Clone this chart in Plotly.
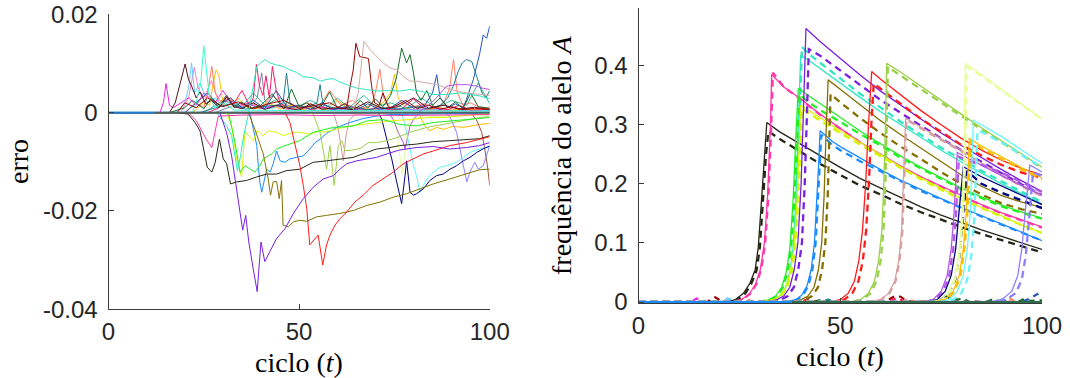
import plotly.graph_objects as go

# ---------------- tick labels ----------------
cycle_ticks = [0, 50, 100]
cycle_tick_text = ["0", "50", "100"]
err_ticks = [0.02, 0, -0.02, -0.04]
err_tick_text = ["0.02", "0", "-0.02", "-0.04"]
freq_ticks = [0, 0.1, 0.2, 0.3, 0.4]
freq_tick_text = ["0", "0.1", "0.2", "0.3", "0.4"]

# ---------------- LEFT PANEL (erro) : large negative curves ----------------
e_purple_t = [0, 29.2, 31, 32.3, 33.2, 34.3, 35.2, 36, 36.8, 37.8, 39, 40, 41, 42.3, 44.1, 46.3, 48.5, 51.1, 53.7, 56.3, 59, 60.7, 62.5, 65.1, 67.7, 70.3, 73.8, 76.4, 80.8, 85.2, 89.5, 93.9, 97.4, 100]
e_purple_v = [0, 0, -0.0041, -0.0088, -0.0135, -0.0195, -0.0239, -0.0209, -0.0263, -0.031, -0.0364, -0.0263, -0.0303, -0.0283, -0.0256, -0.0236, -0.0205, -0.0175, -0.0152, -0.0135, -0.0128, -0.0115, -0.0104, -0.0098, -0.0094, -0.0091, -0.0082, -0.0076, -0.0071, -0.0069, -0.0074, -0.0071, -0.0067, -0.0061]

e_red_t = [0, 46.3, 47.6, 48.9, 50.2, 51.1, 52, 52.8, 54.2, 55, 56.2, 57.2, 58.1, 59.4, 60.7, 62.5, 64.6, 66.8, 69.4, 72.1, 74.7, 77.3, 80, 82.6, 85.2, 89.5, 93.9, 97.4, 100]
e_red_v = [0, 0, -0.002, -0.0061, -0.0108, -0.0148, -0.0195, -0.0269, -0.0256, -0.0249, -0.031, -0.0269, -0.0249, -0.0229, -0.0216, -0.0202, -0.0182, -0.0168, -0.0148, -0.0135, -0.0121, -0.0104, -0.0094, -0.0084, -0.0078, -0.0067, -0.0061, -0.0054, -0.0049]

e_olive_t = [0, 36.7, 38.4, 40.6, 41.9, 42.5, 43.2, 44.1, 44.8, 45.4, 45.8, 47.2, 48.5, 50.2, 52, 54.6, 57.2, 60.7, 64.2, 67.7, 71.2, 74.7, 78.2, 81.7, 85.2, 89.5, 93.9, 97.4, 100]
e_olive_v = [0, 0, -0.0034, -0.0084, -0.0135, -0.0168, -0.0141, -0.014, -0.0175, -0.0138, -0.0229, -0.0232, -0.0222, -0.0219, -0.0221, -0.0212, -0.0209, -0.0205, -0.0199, -0.0189, -0.0182, -0.0172, -0.0165, -0.0155, -0.0145, -0.0135, -0.0125, -0.0116, -0.0115]

e_black_t = [0, 17.9, 20.9, 22.7, 24, 24.9, 25.9, 27.1, 28, 29.1, 30.1, 31, 32, 33.6, 36.2, 38.8, 41.5, 44.1, 46.7, 50.2, 53.7, 57.2, 60.7, 64.2, 67.7, 70.3, 73.8, 76.4, 80.8, 85.2, 89.5, 93.9, 97.4, 100]
e_black_v = [0, 0, -0.0003, -0.002, -0.0037, -0.0074, -0.0111, -0.0121, -0.0101, -0.0054, -0.0094, -0.0104, -0.0145, -0.0141, -0.0138, -0.0131, -0.0125, -0.0125, -0.0118, -0.0115, -0.0101, -0.0098, -0.0094, -0.0091, -0.0081, -0.0074, -0.0071, -0.0067, -0.0064, -0.0059, -0.0057, -0.0054, -0.0053, -0.0047]

e_pink_t = [0, 20.9, 23.1, 24.4, 25.7, 27.1, 28.2, 28.8, 35, 45, 55, 65, 75, 85, 100]
e_pink_v = [0, 0, -0.0017, -0.0037, -0.0055, -0.0071, -0.0034, -0.0007, -0.0005, -0.0004, -0.0006, -0.0005, -0.0006, -0.0005, -0.0004]

e_turq_t = [0, 28.4, 29.7, 31, 32.3, 33.2, 33.8, 34.6, 35.5, 36.5, 37.5, 38.9, 41, 42.4, 44.1, 45.8, 47.6, 49.3, 51.1, 53.7, 55.5, 57.5, 59, 60.5, 62.5, 65.1, 67.5, 70.3, 73, 76.5, 79.1, 81.7, 85.2, 88.7, 92.2, 95, 97.4, 100]
e_turq_v = [0, 0, -0.0014, -0.0027, -0.0047, -0.0088, -0.0118, -0.009, -0.0045, -0.001, 0.003, 0.0094, 0.0108, 0.0101, 0.0097, 0.0094, 0.0087, 0.0082, 0.0073, 0.0071, 0.0064, 0.0068, 0.0069, 0.0063, 0.0057, 0.005, 0.0047, 0.0044, 0.0045, 0.0044, 0.0047, 0.0044, 0.0037, 0.0037, 0.004, 0.0036, 0.0034, 0.0028]

e_lime_t = [0, 31.5, 33.2, 34.1, 34.5, 35.8, 37.1, 38.4, 39.7, 40.6, 42.8, 44.1, 46, 48, 50.2, 53.7, 56, 59, 62, 64.2, 67.7, 72.1, 76.4, 80.8, 85.2, 90, 93.9, 97, 100]
e_lime_v = [0, 0, -0.0061, -0.0108, -0.0121, -0.0108, -0.0115, -0.0121, -0.0108, -0.0094, -0.0084, -0.0074, -0.0068, -0.0063, -0.0057, -0.004, -0.0036, -0.003, -0.0029, -0.0027, -0.0017, -0.0014, -0.0024, -0.0027, -0.002, -0.0017, -0.0014, -0.0012, -0.001]

e_yellow_t = [0, 31, 32.3, 33.6, 34.9, 35.8, 36.7, 38, 38.9, 39.7, 40.6, 41.9, 44.1, 45.9, 48.5, 50.2, 52.8, 55.5, 56.4, 59.9, 63.4, 66.8, 70.3, 73.8, 79.1, 83.5, 87.8, 92.2, 97.4, 100]
e_yellow_v = [0, 0, -0.0027, -0.0094, -0.0131, -0.0037, -0.0047, -0.0057, -0.0037, -0.004, -0.0047, -0.0037, -0.004, -0.0047, -0.004, -0.004, -0.0044, -0.0037, -0.004, -0.0034, -0.0027, -0.0024, -0.002, -0.0017, -0.0014, -0.001, -0.001, -0.0007, -0.0003, -0.0003]

e_blue_t = [0, 37.1, 38, 38.9, 39.3, 39.7, 40.2, 41, 41.5, 42.4, 43.2, 44.1, 45, 46.3, 47.6, 49.3, 51.1, 52.8, 54.2, 55.5, 57.2, 59.9, 63.4, 66.8, 70.3, 73.8, 80, 90, 100]
e_blue_v = [0, 0, -0.0034, -0.0067, -0.0108, -0.0141, -0.0162, -0.0128, -0.0115, -0.0121, -0.0104, -0.0078, -0.0098, -0.0101, -0.0094, -0.0091, -0.0088, -0.0074, -0.0061, -0.0054, -0.0042, -0.003, -0.002, -0.0012, -0.0007, -0.0004, -0.0003, -0.0002, -0.0002]

e_ygreen_t = [0, 52.5, 53.7, 55.5, 57.2, 58.1, 59.2, 60.3, 61.2, 62, 63.4, 66, 68.2, 70.3, 73, 75.6, 79.1, 83.5, 87.8, 92.2, 97.4, 100]
e_ygreen_v = [0, 0, -0.0003, -0.004, -0.0115, -0.0067, -0.0148, -0.0067, -0.0057, -0.0077, -0.0077, -0.0073, -0.0061, -0.0061, -0.0057, -0.0051, -0.004, -0.003, -0.0024, -0.0017, -0.001, -0.0008]

e_rosy_t = [0, 59, 60.2, 61, 61.6, 62.3, 63.2, 65, 100]
e_rosy_v = [0, 0, -0.003, -0.0074, -0.0098, -0.0047, -0.0014, -0.0003, -0.0002]

e_navy_t = [0, 70.8, 71.7, 73, 74.3, 75.6, 76.9, 77.8, 78.2, 79.1, 80, 80.8, 82.6, 84.3, 86.1, 87.8, 89.6, 91.3, 93.1, 94.8, 96.6, 98.2, 100]
e_navy_v = [0, 0, -0.0014, -0.0054, -0.0094, -0.0141, -0.0185, -0.0128, -0.0098, -0.0162, -0.0168, -0.0165, -0.0155, -0.0138, -0.0128, -0.0125, -0.0115, -0.0108, -0.0098, -0.0091, -0.0081, -0.0074, -0.0068]

e_cyan_t = [0, 76.9, 78.2, 79.1, 80, 80.8, 81.7, 82.6, 83.5, 85.2, 87, 88.7, 91.3, 93.1, 94.8, 97.4, 100]
e_cyan_v = [0, 0, -0.004, -0.0074, -0.0108, -0.0128, -0.0162, -0.0148, -0.0135, -0.0121, -0.0111, -0.0108, -0.0101, -0.0091, -0.0081, -0.0074, -0.0068]

e_orchid_t = [0, 73.5, 74.7, 76, 77.3, 77.8, 78.2, 79.1, 80, 82, 84, 86, 88.7, 91.3, 94, 96.6, 98, 100]
e_orchid_v = [0, 0, -0.0014, -0.004, -0.006, -0.0074, -0.006, -0.0027, -0.0014, 0.0005, 0.0015, 0.003, 0.0054, 0.0057, 0.0057, 0.0054, 0.005, 0.0047]

e_slate_t = [0, 88, 89.5, 91.3, 93.1, 94, 94.8, 96.1, 97, 98.3, 100]
e_slate_v = [0, 0, -0.0007, -0.004, -0.0108, -0.0141, -0.0121, -0.0101, -0.0115, -0.0108, -0.0067]

e_brown_t = [0, 95, 96.5, 97.9, 98.7, 99.4, 100]
e_brown_v = [0, 0, -0.0014, -0.004, -0.0074, -0.0108, -0.0148]

e_orange_t = [0, 80.5, 81.7, 83, 84.3, 86.1, 87.8, 90.4, 93.1, 97.4, 100]
e_orange_v = [0, 0, -0.0007, -0.0027, -0.0037, -0.003, -0.0034, -0.0028, -0.003, -0.0024, -0.0022]

e_pale_t = [0, 74.5, 75.5, 76.4, 77, 77.6, 78.5, 79.5, 85, 100]
e_pale_v = [0, 0, -0.003, -0.009, -0.0125, -0.009, -0.003, -0.0012, -0.0008, -0.0005]

# ---------------- LEFT PANEL : positive spiky curves ----------------
e_darkred_t = [0, 18, 20, 23, 26, 30, 34, 38, 42, 46, 50, 54, 58, 61, 62.5, 63.4, 64.2, 64.9, 65.9, 67.7, 68.2, 69, 69.8, 71, 72, 73.5, 75, 78, 81, 84, 87, 90, 93, 96, 100]
e_darkred_v = [0, 0, 0.002, 0.001, 0.003, 0.0012, 0.0022, 0.0008, 0.0018, 0.0025, 0.0009, 0.0015, 0.002, 0.0008, 0.001, 0.0054, 0.0087, 0.0141, 0.0114, 0.0111, 0.011, 0.0055, 0.002, 0.0015, 0.004, 0.001, 0.0012, 0.0025, 0.0008, 0.0015, 0.0007, 0.0012, 0.0006, 0.0009, 0.0007]

e_rosypos_t = [0, 64, 65.5, 66.3, 67, 68.6, 70.3, 72.1, 73.8, 75.6, 77.3, 79.1, 80.8, 83.5, 86.1, 88.7, 91.3, 94, 97.4, 100]
e_rosypos_v = [0, 0, 0.004, 0.01, 0.0145, 0.0128, 0.0114, 0.0101, 0.0091, 0.0087, 0.0074, 0.0064, 0.0064, 0.006, 0.0057, 0.005, 0.0044, 0.004, 0.0037, 0.0035]

e_magenta_t = [0, 13.5, 14.4, 15.1, 16, 17, 19, 21, 23, 25, 28, 30, 33, 36, 40, 45, 50, 55, 60, 65, 70, 75, 80, 85, 90, 95, 100]
e_magenta_v = [0, 0, 0.002, 0.0059, 0.0015, 0.001, 0.002, 0.003, 0.0015, 0.004, 0.002, 0.0045, 0.001, 0.002, 0.0008, 0.0015, 0.0006, 0.0012, 0.0005, 0.001, 0.0004, 0.0008, 0.0005, 0.0007, 0.0004, 0.0006, 0.0004]

e_maroon_t = [0, 16, 17.5, 18.7, 20.1, 21, 21.8, 23, 24, 25.5, 27, 29, 31, 33, 35, 38, 41, 44, 47, 50, 53, 56, 60, 64, 68, 72, 76, 80, 84, 88, 92, 96, 100]
e_maroon_v = [0, 0, 0.002, 0.0054, 0.0099, 0.0067, 0.0054, 0.003, 0.0042, 0.0018, 0.0025, 0.001, 0.0032, 0.0012, 0.0008, 0.002, 0.0006, 0.0015, 0.0009, 0.0005, 0.0018, 0.0007, 0.001, 0.0006, 0.0022, 0.0008, 0.0012, 0.003, 0.0009, 0.0015, 0.0007, 0.0011, 0.0006]

e_sky_t = [0, 18, 20, 21, 21.8, 22.6, 24, 26, 28, 30, 32, 35, 38, 42, 46, 50, 55, 60, 65, 70, 75, 80, 85, 90, 95, 100]
e_sky_v = [0, 0, 0.002, 0.005, 0.0101, 0.004, 0.006, 0.002, 0.003, 0.0012, 0.0025, 0.001, 0.0018, 0.0008, 0.0014, 0.0006, 0.001, 0.0005, 0.0008, 0.0004, 0.0009, 0.0005, 0.0007, 0.0004, 0.0006, 0.0004]

e_salmon_t = [0, 20, 23, 25, 26, 27.1, 28, 30, 32, 34, 37, 40, 43, 46, 49, 52, 55, 58, 61, 64, 67, 69, 70, 71.2, 72.2, 74, 77, 80, 83, 86, 88, 89.5, 90.5, 91.5, 93, 95, 97, 100]
e_salmon_v = [0, 0, 0.002, 0.001, 0.004, 0.0094, 0.004, 0.0015, 0.003, 0.001, 0.0022, 0.0009, 0.0035, 0.0012, 0.0008, 0.002, 0.001, 0.0045, 0.0015, 0.0025, 0.001, 0.0015, 0.004, 0.0088, 0.003, 0.001, 0.002, 0.0012, 0.0018, 0.0009, 0.002, 0.005, 0.0108, 0.004, 0.0015, 0.002, 0.0012, 0.0009]

e_gold_t = [0, 22, 25, 26.5, 27.5, 28.2, 29, 30, 32, 34, 36, 39, 42, 45, 48, 51, 54, 57, 60, 63, 66, 69, 72, 74, 75, 76, 78, 81, 84, 87, 90, 93, 96, 100]
e_gold_v = [0, 0, 0.002, 0.0015, 0.006, 0.0087, 0.0075, 0.002, 0.001, 0.003, 0.0012, 0.0008, 0.002, 0.0007, 0.0015, 0.0006, 0.0012, 0.0005, 0.0025, 0.0008, 0.001, 0.0006, 0.002, 0.004, 0.0078, 0.003, 0.0009, 0.0012, 0.0007, 0.001, 0.0005, 0.0008, 0.0006, 0.0007]

e_crimson_t = [0, 26, 29, 31, 33, 35, 37, 38, 38.8, 39.6, 40.5, 41.3, 42.2, 43, 44, 45, 47, 50, 53, 56, 59, 62, 65, 68, 71, 74, 77, 80, 83, 86, 89, 92, 95, 100]
e_crimson_v = [0, 0, 0.001, 0.0028, 0.002, 0.0045, 0.0015, 0.003, 0.0098, 0.0055, 0.0035, 0.0075, 0.003, 0.0094, 0.0045, 0.002, 0.001, 0.0015, 0.0006, 0.0012, 0.0006, 0.0018, 0.0008, 0.0006, 0.0012, 0.0005, 0.0008, 0.0028, 0.0007, 0.001, 0.0006, 0.0015, 0.0005, 0.0007]

e_dkgreen_t = [0, 16, 20, 22, 25, 27, 29, 31, 33, 35, 37, 40, 43, 46, 48, 50, 52, 54, 56, 58, 60, 62, 64, 66, 68, 70, 72, 74, 75.5, 76.9, 78.2, 79.1, 80, 80.8, 82, 83.5, 85, 87, 89, 91, 93, 95, 97, 100]
e_dkgreen_v = [0, 0, 0.001, 0.0025, 0.0008, 0.003, 0.0012, 0.0035, 0.001, 0.0022, 0.0008, 0.0015, 0.0038, 0.0007, 0.0048, 0.0012, 0.002, 0.0007, 0.0015, 0.0042, 0.001, 0.0018, 0.0006, 0.0025, 0.0009, 0.0028, 0.0012, 0.0035, 0.007, 0.0131, 0.0101, 0.0118, 0.0081, 0.004, 0.0025, 0.0045, 0.0015, 0.003, 0.001, 0.0022, 0.0008, 0.004, 0.0012, 0.0009]

e_teal_t = [0, 24, 28, 32, 36, 40, 44, 45.8, 46.7, 47.6, 50, 53, 54.7, 55.5, 56.3, 60, 64, 68, 72, 76, 80, 84, 87, 89, 90.5, 91.8, 92.8, 93.9, 95.3, 96.1, 97, 98, 99, 100]
e_teal_v = [0, 0, 0.001, 0.0018, 0.0007, 0.0012, 0.0015, 0.002, 0.008, 0.002, 0.0009, 0.0014, 0.002, 0.0057, 0.0015, 0.0008, 0.0012, 0.0006, 0.001, 0.0007, 0.0012, 0.0008, 0.0015, 0.003, 0.0055, 0.0085, 0.0101, 0.0108, 0.0104, 0.0087, 0.0064, 0.004, 0.003, 0.0045]

e_royal_t = [0, 20, 23, 26, 29, 32, 35, 38, 41, 44, 47, 50, 53, 56, 59, 62, 65, 68, 71, 74, 77, 80, 83, 85, 86.1, 87, 89, 91, 93, 93.9, 95.7, 97.4, 98.3, 99.2, 100]
e_royal_v = [0, 0, 0.002, 0.004, 0.0015, 0.003, 0.001, 0.0025, 0.0008, 0.0045, 0.001, 0.0015, 0.0007, 0.002, 0.0006, 0.0012, 0.0005, 0.0018, 0.0007, 0.001, 0.0025, 0.0009, 0.0015, 0.004, 0.0077, 0.003, 0.001, 0.0018, 0.001, 0.0027, 0.0067, 0.0121, 0.0158, 0.0151, 0.0176]

e_greyviolet_t = [0, 28, 32, 35, 37, 39, 40.2, 41, 43, 46, 50, 54, 58, 62, 66, 70, 74, 78, 82, 86, 90, 94, 100]
e_greyviolet_v = [0, 0, 0.0012, 0.002, 0.001, 0.003, 0.0081, 0.0025, 0.001, 0.0018, 0.0006, 0.0012, 0.0005, 0.001, 0.0004, 0.0008, 0.0005, 0.0009, 0.0004, 0.0007, 0.0005, 0.0006, 0.0004]

e_aqua_t = [0, 22, 23, 24.2, 25, 25.8, 26.5, 28, 30, 33, 100]
e_aqua_v = [0, 0, 0.002, 0.006, 0.0136, 0.008, 0.003, 0.001, 0.002, 0.0005, 0.0003]

e_rose_t = [0, 19, 21, 22.5, 23.5, 25, 27, 29, 31, 34, 37, 40, 43, 47, 51, 55, 60, 65, 70, 75, 80, 85, 90, 95, 100]
e_rose_v = [0, 0, 0.003, 0.0092, 0.005, 0.003, 0.0065, 0.002, 0.0035, 0.0012, 0.002, 0.0008, 0.0015, 0.0006, 0.001, 0.0005, 0.0008, 0.0004, 0.0007, 0.0004, 0.0006, 0.0004, 0.0005, 0.0004, 0.0004]

e_seagreen_t = [0, 25, 30, 35, 38, 41, 45, 49, 53, 57, 60, 63, 67, 70, 74, 78, 82, 86, 90, 94, 97, 100]
e_seagreen_v = [0, 0, 0.0025, 0.0012, 0.004, 0.0015, 0.003, 0.001, 0.0025, 0.0009, 0.003, 0.001, 0.0035, 0.0012, 0.002, 0.0008, 0.003, 0.001, 0.0025, 0.0015, 0.006, 0.0018]

baseline_t = [0, 100]
baseline_v = [0, 0]
grey_base_t = [12, 100]
blue_base_t = [0, 12]

# ---------------- RIGHT PANEL (frequencia do alelo A) : solid = real, dashed = estimate ----------------
f_black_t = [0, 22, 24, 26, 27.6, 28.9, 29.7, 30.5, 31.2, 31.8, 35, 40, 45, 50, 55, 60, 65, 70, 75, 80, 85, 90, 95, 100]
f_black_v = [0, 0, 0.004, 0.0147, 0.0316, 0.0542, 0.0937, 0.1727, 0.25, 0.304, 0.288, 0.268, 0.247, 0.228, 0.209, 0.193, 0.177, 0.161, 0.147, 0.134, 0.122, 0.111, 0.1, 0.089]
f_black_dt = [0, 22.5, 24.5, 26.5, 28, 29.3, 30.1, 30.9, 31.6, 32.2, 35, 40, 45, 50, 55, 60, 65, 70, 75, 80, 85, 90, 95, 100]
f_black_dv = [0, 0, 0.004, 0.0147, 0.0316, 0.0542, 0.0937, 0.1727, 0.25, 0.289, 0.276, 0.255, 0.234, 0.215, 0.197, 0.182, 0.166, 0.152, 0.139, 0.127, 0.115, 0.105, 0.095, 0.084]

f_pink_t = [0, 23, 25.5, 27.5, 29, 30.2, 31.2, 32, 32.7, 33, 36, 40, 45, 50, 55, 60, 65, 70, 75, 80, 85, 90, 95, 100]
f_pink_v = [0, 0, 0.004, 0.014, 0.03, 0.055, 0.1, 0.18, 0.3, 0.385, 0.364, 0.345, 0.318, 0.294, 0.27, 0.25, 0.23, 0.212, 0.196, 0.18, 0.165, 0.151, 0.139, 0.127]
f_pink_dt = [0, 23.2, 25.7, 27.7, 29.2, 30.4, 31.4, 32.2, 32.9, 33.3, 36, 40, 45, 50, 55, 60, 65, 70, 75, 80, 85, 90, 95, 100]
f_pink_dv = [0, 0, 0.004, 0.014, 0.03, 0.055, 0.1, 0.18, 0.3, 0.388, 0.364, 0.344, 0.317, 0.293, 0.27, 0.249, 0.229, 0.211, 0.195, 0.179, 0.164, 0.15, 0.138, 0.126]

f_turq_t = [0, 30, 33, 35, 36.5, 37.5, 38.3, 39, 39.6, 40.2, 42, 45, 50, 55, 60, 65, 70, 75, 80, 85, 90, 95, 100]
f_turq_v = [0, 0, 0.003, 0.01, 0.025, 0.05, 0.09, 0.17, 0.3, 0.418, 0.41, 0.395, 0.37, 0.346, 0.322, 0.3, 0.278, 0.257, 0.237, 0.218, 0.2, 0.183, 0.166]
f_turq_dt = [0, 30.3, 33.3, 35.3, 36.8, 37.8, 38.6, 39.3, 39.9, 40.5, 42, 45, 50, 55, 60, 65, 70, 75, 80, 85, 90, 95, 100]
f_turq_dv = [0, 0, 0.003, 0.01, 0.025, 0.05, 0.09, 0.17, 0.3, 0.432, 0.421, 0.405, 0.378, 0.352, 0.329, 0.305, 0.283, 0.261, 0.242, 0.222, 0.204, 0.187, 0.169]

f_purple_t = [0, 31, 34, 36, 37.5, 38.6, 39.5, 40.3, 41, 41.5, 45, 50, 55, 60, 65, 70, 75, 80, 85, 90, 95, 100]
f_purple_v = [0, 0, 0.003, 0.01, 0.025, 0.055, 0.1, 0.2, 0.35, 0.463, 0.441, 0.412, 0.384, 0.357, 0.333, 0.309, 0.286, 0.265, 0.244, 0.224, 0.205, 0.187]
f_purple_dt = [0, 32, 35, 37, 38.5, 39.6, 40.5, 41.2, 41.8, 42.2, 45, 50, 55, 60, 65, 70, 75, 80, 85, 90, 95, 100]
f_purple_dv = [0, 0, 0.003, 0.01, 0.025, 0.055, 0.1, 0.2, 0.33, 0.428, 0.417, 0.392, 0.366, 0.342, 0.32, 0.298, 0.277, 0.257, 0.237, 0.218, 0.199, 0.181]

f_lime_t = [0, 29, 32, 34, 35.5, 36.6, 37.5, 38.3, 39, 39.6, 42, 45, 50, 55, 60, 65, 70, 75, 80, 85, 90, 95, 100]
f_lime_v = [0, 0, 0.003, 0.01, 0.025, 0.05, 0.09, 0.17, 0.28, 0.362, 0.35, 0.336, 0.312, 0.289, 0.268, 0.247, 0.228, 0.21, 0.193, 0.178, 0.164, 0.152, 0.142]
f_lime_dt = [0, 29.3, 32.3, 34.3, 35.8, 36.9, 37.8, 38.6, 39.3, 39.9, 42, 45, 50, 55, 60, 65, 70, 75, 80, 85, 90, 95, 100]
f_lime_dv = [0, 0, 0.003, 0.01, 0.025, 0.05, 0.09, 0.17, 0.27, 0.352, 0.339, 0.325, 0.305, 0.284, 0.265, 0.244, 0.226, 0.208, 0.191, 0.176, 0.162, 0.151, 0.141]

f_yellow_t = [0, 30, 33, 35, 36.5, 37.6, 38.5, 39.3, 39.8, 40.2, 42, 45, 50, 55, 60, 65, 70, 75, 80, 85, 90, 95, 100]
f_yellow_v = [0, 0, 0.003, 0.01, 0.025, 0.05, 0.09, 0.17, 0.26, 0.333, 0.325, 0.312, 0.29, 0.27, 0.249, 0.229, 0.21, 0.192, 0.175, 0.16, 0.146, 0.13, 0.117]
f_yellow_dt = [0, 30.3, 33.3, 35.3, 36.8, 37.9, 38.8, 39.6, 40.1, 40.5, 42, 45, 50, 55, 60, 65, 70, 75, 80, 85, 90, 95, 100]
f_yellow_dv = [0, 0, 0.003, 0.01, 0.025, 0.05, 0.09, 0.17, 0.26, 0.328, 0.32, 0.307, 0.286, 0.266, 0.246, 0.227, 0.208, 0.19, 0.174, 0.159, 0.145, 0.13, 0.117]

f_blue_t = [0, 36, 39, 40.5, 41.8, 42.8, 43.6, 44.2, 44.7, 45, 48, 50, 55, 60, 65, 70, 75, 80, 85, 90, 95, 100]
f_blue_v = [0, 0, 0.004, 0.012, 0.028, 0.055, 0.1, 0.17, 0.24, 0.29, 0.272, 0.263, 0.243, 0.224, 0.206, 0.19, 0.175, 0.16, 0.146, 0.132, 0.118, 0.104]
f_blue_dt = [0, 36.3, 39.3, 40.8, 42.1, 43.1, 43.9, 44.5, 45, 45.3, 48, 50, 55, 60, 65, 70, 75, 80, 85, 90, 95, 100]
f_blue_dv = [0, 0, 0.004, 0.012, 0.028, 0.055, 0.1, 0.17, 0.24, 0.283, 0.266, 0.257, 0.238, 0.221, 0.204, 0.188, 0.174, 0.159, 0.145, 0.131, 0.117, 0.104]

f_olive_t = [0, 37, 40, 42, 43.5, 44.6, 45.4, 46, 46.5, 47, 50, 55, 60, 65, 70, 75, 80, 85, 90, 95, 100]
f_olive_v = [0, 0, 0.003, 0.01, 0.025, 0.055, 0.1, 0.18, 0.29, 0.376, 0.36, 0.333, 0.307, 0.283, 0.26, 0.237, 0.215, 0.196, 0.18, 0.169, 0.16]
f_olive_dt = [0, 38, 41, 43, 44.5, 45.5, 46.3, 46.9, 47.3, 47.6, 50, 55, 60, 65, 70, 75, 80, 85, 90, 95, 100]
f_olive_dv = [0, 0, 0.003, 0.01, 0.025, 0.055, 0.1, 0.18, 0.28, 0.352, 0.338, 0.311, 0.286, 0.263, 0.242, 0.22, 0.2, 0.182, 0.167, 0.157, 0.149]

f_red_t = [0, 47, 50, 52, 53.5, 54.6, 55.5, 56.3, 57, 57.8, 60, 65, 70, 75, 80, 85, 90, 95, 100]
f_red_v = [0, 0, 0.004, 0.015, 0.035, 0.07, 0.12, 0.2, 0.3, 0.39, 0.377, 0.35, 0.324, 0.3, 0.277, 0.257, 0.24, 0.226, 0.215]
f_red_dt = [0, 48, 51, 53, 54.5, 55.6, 56.4, 57.1, 57.7, 58.3, 60, 65, 70, 75, 80, 85, 90, 95, 100]
f_red_dv = [0, 0, 0.004, 0.015, 0.035, 0.07, 0.12, 0.2, 0.3, 0.37, 0.361, 0.335, 0.31, 0.288, 0.266, 0.248, 0.232, 0.219, 0.21]

f_ygreen_t = [0, 52, 55, 57, 58.5, 59.5, 60.3, 60.8, 61.2, 61.5, 65, 70, 75, 80, 85, 90, 95, 100]
f_ygreen_v = [0, 0, 0.004, 0.015, 0.035, 0.07, 0.12, 0.2, 0.3, 0.404, 0.389, 0.365, 0.341, 0.318, 0.295, 0.273, 0.25, 0.228]
f_ygreen_dt = [0, 52.5, 55.5, 57.5, 59, 60, 60.7, 61.2, 61.5, 61.8, 65, 70, 75, 80, 85, 90, 95, 100]
f_ygreen_dv = [0, 0, 0.004, 0.015, 0.035, 0.07, 0.12, 0.2, 0.3, 0.398, 0.383, 0.36, 0.337, 0.314, 0.292, 0.27, 0.248, 0.227]

f_rosy_t = [0, 57, 60, 62, 63.5, 64.5, 65.2, 65.7, 66, 66.2, 70, 75, 80, 85, 90, 95, 100]
f_rosy_v = [0, 0, 0.004, 0.015, 0.035, 0.07, 0.12, 0.2, 0.27, 0.311, 0.296, 0.277, 0.257, 0.235, 0.215, 0.197, 0.18]
f_rosy_dt = [0, 57.2, 60.2, 62.2, 63.7, 64.7, 65.4, 65.9, 66.2, 66.4, 70, 75, 80, 85, 90, 95, 100]
f_rosy_dv = [0, 0, 0.004, 0.015, 0.035, 0.07, 0.12, 0.2, 0.27, 0.309, 0.294, 0.275, 0.255, 0.234, 0.214, 0.196, 0.179]

f_orchid_t = [0, 70, 73, 75, 76.5, 77.5, 78.2, 78.7, 79, 82, 85, 90, 95, 100]
f_orchid_v = [0, 0, 0.004, 0.018, 0.045, 0.09, 0.15, 0.21, 0.253, 0.242, 0.232, 0.214, 0.197, 0.181]
f_orchid_dt = [0, 70.5, 73.5, 75.5, 77, 78, 78.7, 79.1, 79.4, 82, 85, 90, 95, 100]
f_orchid_dv = [0, 0, 0.004, 0.018, 0.045, 0.09, 0.15, 0.21, 0.246, 0.238, 0.232, 0.219, 0.202, 0.186]

f_navy_t = [0, 71, 74, 76, 77.5, 78.6, 79.4, 80, 80.5, 85, 90, 95, 100]
f_navy_v = [0, 0, 0.004, 0.018, 0.045, 0.09, 0.15, 0.2, 0.229, 0.212, 0.196, 0.18, 0.165]
f_navy_dt = [0, 72, 75, 77, 78.5, 79.6, 80.4, 81, 81.4, 85, 90, 95, 100]
f_navy_dv = [0, 0, 0.004, 0.015, 0.038, 0.08, 0.14, 0.19, 0.222, 0.2, 0.185, 0.172, 0.159]

f_pale_t = [0, 72, 75, 77, 78.5, 79.5, 80.2, 80.7, 81, 85, 90, 95, 100]
f_pale_v = [0, 0, 0.004, 0.018, 0.045, 0.09, 0.16, 0.26, 0.404, 0.385, 0.36, 0.335, 0.31]
f_pale_dt = [0, 72.3, 75.3, 77.3, 78.8, 79.8, 80.5, 81, 81.3, 85, 90, 95, 100]
f_pale_dv = [0, 0, 0.004, 0.018, 0.045, 0.09, 0.16, 0.26, 0.398, 0.383, 0.358, 0.333, 0.309]

f_orange_t = [0, 73, 76, 78, 79.5, 80.5, 81.2, 81.7, 82, 85, 90, 95, 100]
f_orange_v = [0, 0, 0.004, 0.018, 0.045, 0.09, 0.15, 0.22, 0.277, 0.264, 0.245, 0.227, 0.21]
f_orange_dt = [0, 73.3, 76.3, 78.3, 79.8, 80.8, 81.5, 82, 82.3, 85, 90, 95, 100]
f_orange_dv = [0, 0, 0.004, 0.018, 0.045, 0.09, 0.15, 0.22, 0.273, 0.26, 0.242, 0.224, 0.208]

f_cyan_t = [0, 74, 77, 79, 80.5, 81.5, 82.2, 82.7, 83, 85, 90, 95, 100]
f_cyan_v = [0, 0, 0.004, 0.018, 0.045, 0.09, 0.15, 0.23, 0.308, 0.3, 0.28, 0.257, 0.235]
f_cyan_dt = [0, 75, 78, 80, 81.5, 82.5, 83.2, 83.7, 84, 85, 90, 95, 100]
f_cyan_dv = [0, 0, 0.004, 0.015, 0.038, 0.08, 0.14, 0.22, 0.29, 0.288, 0.27, 0.249, 0.228]

f_slate_t = [0, 87, 90, 92.5, 94, 95, 95.8, 96.5, 97, 100]
f_slate_v = [0, 0, 0.004, 0.018, 0.045, 0.09, 0.15, 0.2, 0.232, 0.22]
f_slate_dt = [0, 88, 91, 93.5, 95, 96, 96.8, 97.4, 97.8, 100]
f_slate_dv = [0, 0, 0.004, 0.015, 0.038, 0.08, 0.14, 0.19, 0.22, 0.213]

# small near-zero bumps (estimates) in the right panel
f_bump_magenta_t = [0, 13, 14.4, 15.5, 17, 100]
f_bump_magenta_v = [0, 0, 0.006, 0.002, 0, 0]
f_bump_darkred_t = [0, 17, 18.2, 19, 20, 21.5, 23, 60, 62, 63.5, 65, 66.5, 100]
f_bump_darkred_v = [0, 0, 0.005, 0.008, 0.004, 0.002, 0, 0, 0.004, 0.01, 0.009, 0.001, 0]
f_bump_sky_t = [0, 20, 22, 23.5, 25, 100]
f_bump_sky_v = [0, 0, 0.006, 0.003, 0, 0]
f_bump_salmon_t = [0, 24, 26, 27.5, 29, 65, 67, 68.5, 90, 92, 93.5, 100]
f_bump_salmon_v = [0, 0, 0.006, 0.003, 0, 0, 0.005, 0, 0, 0.006, 0, 0]
f_bump_dkgreen_t = [0, 43, 45, 47, 74, 76, 77.5, 79, 80.5, 82, 86, 88, 90, 94, 95.5, 97, 100]
f_bump_dkgreen_v = [0, 0, 0.003, 0, 0, 0.01, 0.006, 0.004, 0.006, 0, 0, 0.005, 0, 0, 0.005, 0.002, 0.003]
f_bump_crimson_t = [0, 40, 42, 44, 62, 64, 66, 100]
f_bump_crimson_v = [0, 0, 0.005, 0, 0, 0.007, 0, 0]
f_bump_royal_t = [0, 95, 97, 98.5, 100]
f_bump_royal_v = [0, 0, 0.006, 0.012, 0.018]
f_bump_teal_t = [0, 45, 47, 49, 88, 90, 92, 100]
f_bump_teal_v = [0, 0, 0.004, 0, 0, 0.004, 0, 0]

# ---------------- styles ----------------
TICK_FONT = dict(family="Liberation Sans, Arial, sans-serif", size=24, color="#262626")
AXIS_COLOR = "#3a3a3a"

left_series = [
    (e_greyviolet_t, e_greyviolet_v, "#8080a0"),
    (e_seagreen_t, e_seagreen_v, "#33bb99"),
    (e_rose_t, e_rose_v, "#ff80c0"),
    (e_magenta_t, e_magenta_v, "#ee22ee"),
    (e_sky_t, e_sky_v, "#66ccff"),
    (e_gold_t, e_gold_v, "#ffc000"),
    (e_salmon_t, e_salmon_v, "#ff7f60"),
    (e_crimson_t, e_crimson_v, "#ff1a66"),
    (e_teal_t, e_teal_v, "#1a8090"),
    (e_royal_t, e_royal_v, "#2255bb"),
    (e_dkgreen_t, e_dkgreen_v, "#1a6b2a"),
    (e_maroon_t, e_maroon_v, "#55101e"),
    (e_aqua_t, e_aqua_v, "#33ffcc"),
    (e_darkred_t, e_darkred_v, "#9b0000"),
    (e_rosypos_t, e_rosypos_v, "#d9a8a0"),
    (e_pale_t, e_pale_v, "#e6ff99"),
    (e_orange_t, e_orange_v, "#ffbb00"),
    (e_brown_t, e_brown_v, "#a0523c"),
    (e_slate_t, e_slate_v, "#8c7fff"),
    (e_orchid_t, e_orchid_v, "#b355e6"),
    (e_cyan_t, e_cyan_v, "#66f0ff"),
    (e_navy_t, e_navy_v, "#000080"),
    (e_rosy_t, e_rosy_v, "#cc9999"),
    (e_ygreen_t, e_ygreen_v, "#99d04a"),
    (e_blue_t, e_blue_v, "#1a8cff"),
    (e_yellow_t, e_yellow_v, "#d4f700"),
    (e_lime_t, e_lime_v, "#22ee22"),
    (e_turq_t, e_turq_v, "#2ee6c0"),
    (e_pink_t, e_pink_v, "#ff36a8"),
    (e_black_t, e_black_v, "#262617"),
    (e_olive_t, e_olive_v, "#857000"),
    (e_red_t, e_red_v, "#ff1a1a"),
    (e_purple_t, e_purple_v, "#7a1fe0"),
]

right_pairs = [
    (f_black_t, f_black_v, f_black_dt, f_black_dv, "#262617"),
    (f_pink_t, f_pink_v, f_pink_dt, f_pink_dv, "#ff36a8"),
    (f_turq_t, f_turq_v, f_turq_dt, f_turq_dv, "#2ee6c0"),
    (f_lime_t, f_lime_v, f_lime_dt, f_lime_dv, "#22ee22"),
    (f_yellow_t, f_yellow_v, f_yellow_dt, f_yellow_dv, "#d4f700"),
    (f_purple_t, f_purple_v, f_purple_dt, f_purple_dv, "#7a1fe0"),
    (f_blue_t, f_blue_v, f_blue_dt, f_blue_dv, "#1a8cff"),
    (f_olive_t, f_olive_v, f_olive_dt, f_olive_dv, "#857000"),
    (f_red_t, f_red_v, f_red_dt, f_red_dv, "#ff1a1a"),
    (f_ygreen_t, f_ygreen_v, f_ygreen_dt, f_ygreen_dv, "#99d04a"),
    (f_rosy_t, f_rosy_v, f_rosy_dt, f_rosy_dv, "#d4a0a0"),
    (f_orchid_t, f_orchid_v, f_orchid_dt, f_orchid_dv, "#b355e6"),
    (f_navy_t, f_navy_v, f_navy_dt, f_navy_dv, "#000080"),
    (f_pale_t, f_pale_v, f_pale_dt, f_pale_dv, "#e6ff99"),
    (f_orange_t, f_orange_v, f_orange_dt, f_orange_dv, "#ffbb00"),
    (f_cyan_t, f_cyan_v, f_cyan_dt, f_cyan_dv, "#66f5ff"),
    (f_slate_t, f_slate_v, f_slate_dt, f_slate_dv, "#8c7fff"),
]

right_bumps = [
    (f_bump_magenta_t, f_bump_magenta_v, "#ee22ee"),
    (f_bump_darkred_t, f_bump_darkred_v, "#9b0000"),
    (f_bump_sky_t, f_bump_sky_v, "#66ccff"),
    (f_bump_salmon_t, f_bump_salmon_v, "#ff7f60"),
    (f_bump_crimson_t, f_bump_crimson_v, "#ff1a66"),
    (f_bump_teal_t, f_bump_teal_v, "#1a8090"),
    (f_bump_royal_t, f_bump_royal_v, "#2255bb"),
    (f_bump_dkgreen_t, f_bump_dkgreen_v, "#1a6b2a"),
]

fig = go.Figure()

def add_line(x, y, color, width, xa, ya, dash="solid"):
    fig.add_trace(go.Scatter(x=x, y=y, mode="lines", xaxis=xa, yaxis=ya,
                             line=dict(color=color, width=width, dash=dash),
                             hoverinfo="skip", showlegend=False))

# left panel
add_line(baseline_t, baseline_v, "#1f7fd0", 2, "x", "y")
for t, v, c in left_series:
    add_line(t, v, c, 1.0, "x", "y")
add_line(grey_base_t, [0, 0], "#4d6360", 1.6, "x", "y")
add_line(blue_base_t, [0, 0], "#1f7fd0", 2, "x", "y")

# right panel
add_line(baseline_t, baseline_v, "#1a8cff", 2.2, "x2", "y2")
for t, v, c in right_bumps:
    add_line(t, v, c, 2.2, "x2", "y2", dash="6px,5px")
for t, v, dt, dv, c in right_pairs:
    add_line(t, v, c, 1.3, "x2", "y2")
    add_line(dt, dv, c, 2.3, "x2", "y2", dash="7px,5px")
add_line([38, 100], [0, 0], "#2f6b4c", 2.2, "x2", "y2")
add_line([0, 38], [0, 0], "#1a8cff", 2.2, "x2", "y2")

W, H = 1070, 378

def xdom(a, b):
    return [a / W, b / W]

def ydom(top_px, bottom_px):
    return [1 - bottom_px / H, 1 - top_px / H]

axis_common = dict(showgrid=False, zeroline=False, showline=True, linecolor=AXIS_COLOR,
                   linewidth=1, ticks="inside", ticklen=5, tickcolor=AXIS_COLOR,
                   tickfont=TICK_FONT, mirror=False, automargin=False)

fig.update_layout(
    width=W, height=H,
    margin=dict(l=0, r=0, t=0, b=0, pad=0, autoexpand=False),
    paper_bgcolor="white", plot_bgcolor="white",
    showlegend=False,
    xaxis=dict(domain=xdom(108.5, 489.7), range=[0, 100], tickvals=cycle_ticks,
               ticktext=cycle_tick_text, anchor="y", ticklabelstandoff=1, **axis_common),
    yaxis=dict(domain=ydom(14.3, 309.3), range=[-0.04, 0.02], tickvals=err_ticks,
               ticktext=err_tick_text, anchor="x", ticklabelstandoff=5, **axis_common),
    xaxis2=dict(domain=xdom(638.5, 1042), range=[0, 100], tickvals=cycle_ticks,
                ticktext=cycle_tick_text, anchor="y2", ticklabelstandoff=1, **axis_common),
    yaxis2=dict(domain=ydom(8.4, 303.2), range=[-0.002, 0.497], tickvals=freq_ticks,
                ticktext=freq_tick_text, anchor="x2", ticklabelstandoff=5, **axis_common),
)

TITLE_FONT = dict(family="Liberation Serif, Times New Roman, serif", size=28, color="black")
fig.add_annotation(text="erro", x=18 / W, y=1 - 162 / H, xref="paper", yref="paper",
                   textangle=-90, showarrow=False, font=TITLE_FONT, xanchor="center", yanchor="middle")
fig.add_annotation(text="ciclo (<i>t</i>)", x=299 / W, y=1 - 362 / H, xref="paper", yref="paper",
                   showarrow=False, font=TITLE_FONT, xanchor="center", yanchor="middle")
fig.add_annotation(text="ciclo (<i>t</i>)", x=840 / W, y=1 - 356 / H, xref="paper", yref="paper",
                   showarrow=False, font=TITLE_FONT, xanchor="center", yanchor="middle")
fig.add_annotation(text="frequência do alelo <i>A</i>", x=562 / W, y=1 - 155 / H, xref="paper", yref="paper",
                   textangle=-90, showarrow=False, font=TITLE_FONT, xanchor="center", yanchor="middle")

fig.write_html("out.html")
